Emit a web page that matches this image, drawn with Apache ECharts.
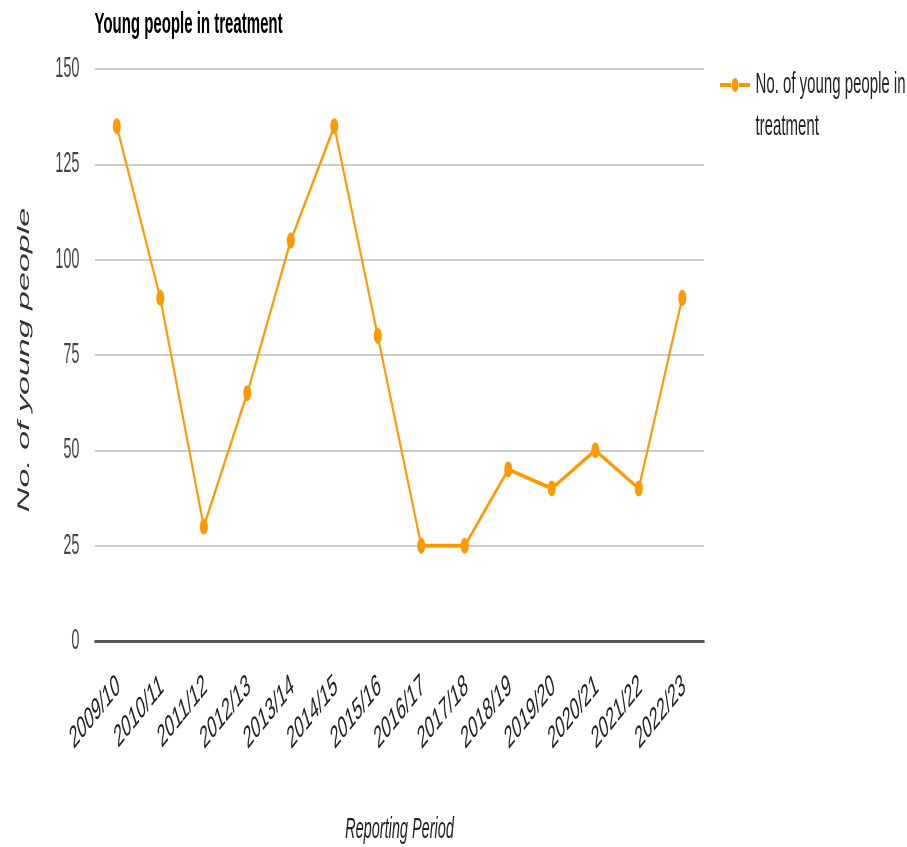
<!DOCTYPE html>
<html><head><meta charset="utf-8">
<script src="https://cdn.jsdelivr.net/npm/echarts@6/dist/echarts.min.js"></script>
<style>
html,body{margin:0;padding:0;overflow:hidden;background:#fff;width:907px;height:847px;}
#wrap{position:absolute;left:0;top:0;width:907px;height:847px;overflow:hidden;}
#chart{position:absolute;left:0;top:0;width:1814px;height:847px;transform:scaleX(0.5);transform-origin:0 0;}
</style></head><body><div id="wrap"><div id="chart"></div></div>
<script>
const categories = ['2009/10','2010/11','2011/12','2012/13','2013/14','2014/15','2015/16','2016/17','2017/18','2018/19','2019/20','2020/21','2021/22','2022/23'];
const youngPeople = [135, 90, 30, 65, 105, 135, 80, 25, 25, 45, 40, 50, 40, 90];
const seriesName = 'No. of young people in treatment';
const titleText = 'Young people in treatment';
const xAxisName = 'Reporting Period';
const yAxisName = 'No. of young people';
const yMin = 0, yMax = 150, yStep = 25;

const FONT = "'Liberation Sans', Arial, Helvetica, sans-serif";
// legend icon: line with a dot, aligned to the first text line
const legendIcon = 'path://M0,0L0.01,0.01Z M60,84L59.99,83.99Z M0,19H22V23H0Z M38,19H60V23H38Z M30,14A7,7 0 1,1 30,28A7,7 0 1,1 30,14Z';

const chart = echarts.init(document.getElementById('chart'), null, {renderer: 'canvas'});
chart.setOption({
  animation: false,
  backgroundColor: '#fff',
  textStyle: {fontFamily: FONT},
  title: {
    text: titleText, left: 184, top: 5,
    textStyle: {fontFamily: FONT, fontSize: 30, fontWeight: 'bold', color: '#000'}
  },
  legend: {
    left: 1440, top: 64, padding: 0,
    itemWidth: 60, itemHeight: 84,
    icon: legendIcon,
    itemStyle: {borderWidth: 0, color: '#ff9900'},
    data: [seriesName],
    formatter: n => n.replace(/ (\S+)$/, '\n$1'),
    textStyle: {fontFamily: FONT, fontSize: 30, color: '#222', lineHeight: 42, padding: [0, 0, 0, 6]}
  },
  grid: {left: 190, right: 406, top: 69, bottom: 206, containLabel: false, outerBoundsMode: 'none'},
  xAxis: {
    type: 'category', data: categories, boundaryGap: true,
    axisLine: {lineStyle: {color: '#555', width: 3}},
    axisTick: {show: false},
    axisLabel: {rotate: 32, interval: 0, fontSize: 31, color: '#222', margin: 26, verticalAlign: 'top', padding: [0, 5, 0, 0], fontFamily: FONT},
    name: xAxisName, nameLocation: 'middle', nameGap: 174,
    nameTextStyle: {fontSize: 29, fontStyle: 'italic', color: '#222', fontFamily: FONT}
  },
  yAxis: {
    type: 'value', min: yMin, max: yMax, interval: yStep,
    axisLine: {show: false}, axisTick: {show: false},
    axisLabel: {fontSize: 29, color: '#444', margin: 31, fontFamily: FONT},
    splitLine: {lineStyle: {color: '#cccccc', width: 2}},
    name: yAxisName, nameLocation: 'middle', nameGap: 124, nameRotate: 90,
    nameTextStyle: {fontSize: 34, fontStyle: 'italic', color: '#333', fontFamily: FONT, padding: [0, 10, 0, 0]}
  },
  series: [{
    type: 'line', name: seriesName, data: youngPeople,
    symbol: 'circle', symbolSize: 16, showSymbol: true,
    lineStyle: {color: '#ff9900', width: 4},
    itemStyle: {color: '#ff9900'}
  }]
});
</script></body></html>
